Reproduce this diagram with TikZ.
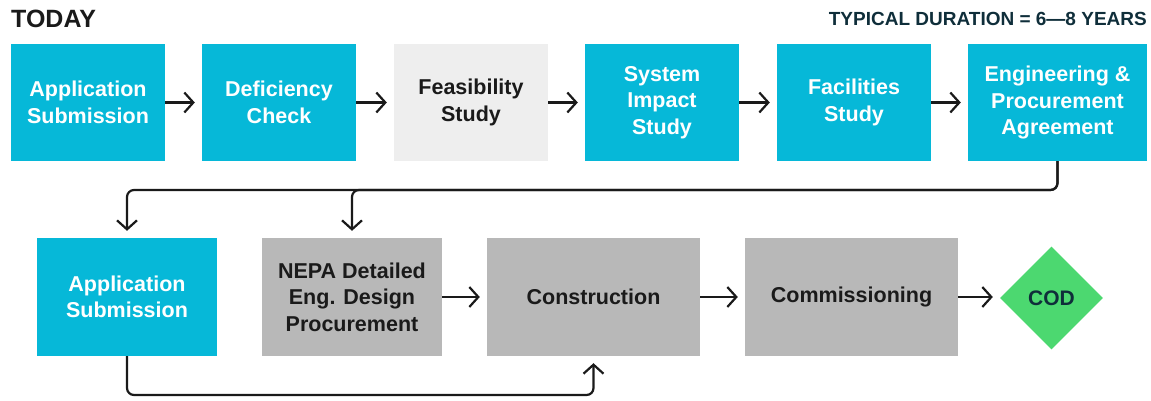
\documentclass[tikz,border=0pt]{standalone}
\usepackage{fontspec}
\setmainfont{Liberation Sans}
\usetikzlibrary{arrows.meta,shapes.geometric}
\definecolor{stepcyan}{HTML}{06B8D8}
\definecolor{stepgray}{HTML}{B8B8B8}
\definecolor{steplight}{HTML}{EEEEEE}
\definecolor{stepgreen}{HTML}{4CD870}
\definecolor{ink}{HTML}{1A1A1A}
\definecolor{navy}{HTML}{0F2E3A}
\tikzset{
  box/.style={rectangle, inner sep=0pt, align=center, font=\fontsize{21.5}{26.5}\selectfont\bfseries},
  cyanbox/.style={box, fill=stepcyan, text=white, minimum height=117pt},
  graybox/.style={box, fill=stepgray, text=ink, minimum height=118pt},
  lightbox/.style={box, fill=steplight, text=ink, minimum height=117pt},
  flow/.style={draw=ink, line width=2.2pt, -{Straight Barb[length=9pt,width=20pt,line width=2.2pt]}, shorten >=7pt},
  path/.style={draw=ink, line width=2.2pt, rounded corners=7pt},
}
\begin{document}
\begin{tikzpicture}[x=1pt,y=-1pt]
\useasboundingbox (0,0) rectangle (1151,400);
% headings
\node[anchor=west, font=\fontsize{25}{28}\selectfont\bfseries, text=ink, inner sep=0pt] (title) at (11,19) {TODAY};
\node[anchor=east, font=\fontsize{19}{22}\selectfont\bfseries, text=navy, inner sep=0pt] (dur) at (1147,19) {TYPICAL DURATION = 6—8 YEARS};
% first row
\node[cyanbox, minimum width=154pt] (app) at (88,102.5) {Application\\Submission};
\node[cyanbox, minimum width=154pt] (def) at (279,102.5) {Deficiency\\Check};
\node[lightbox, minimum width=154pt] (feas) at (471,102.5) {Feasibility\\Study};
\node[cyanbox, minimum width=154pt] (sis) at (662,102.5) {System\\Impact\\Study};
\node[cyanbox, minimum width=154pt] (fac) at (854,102.5) {Facilities\\Study};
\node[cyanbox, minimum width=179pt] (eng) at (1057.5,102.5) {Engineering \&\\Procurement\\Agreement};
% second row
\node[cyanbox, minimum width=180pt, minimum height=118pt] (app2) at (127,297) {Application\\Submission};
\node[graybox, minimum width=180pt] (nepa) at (352,297) {NEPA Detailed\\Eng. Design\\Procurement};
\node[graybox, minimum width=213pt] (con) at (593.5,297) {Construction};
\node[graybox, minimum width=213pt] (com) at (851.5,297) {Commissioning};
\node[diamond, fill=stepgreen, text=navy, inner sep=0pt, minimum width=103pt, minimum height=103pt, font=\fontsize{21}{24}\selectfont\bfseries] (cod) at (1051.5,298) {COD};
% connectors, first row
\draw[flow] (app) -- (def);
\draw[flow] (def) -- (feas);
\draw[flow] (feas) -- (sis);
\draw[flow] (sis) -- (fac);
\draw[flow] (fac) -- (eng);
% connectors, second row
\draw[flow] (nepa) -- (con);
\draw[flow] (con) -- (com);
\draw[flow] (com.east) -- (com.east -| cod.west);
% return bus from the last step
\coordinate (bus) at (0,190);
\coordinate (low) at (0,395);
\draw[path, flow] (eng.south) -- (eng.south |- bus) -| (app2.north);
\draw[path, flow] (eng.south) -- (eng.south |- bus) -| (nepa.north);
\draw[path, flow] (app2.south) -- (app2.south |- low) -| (con.south);
\end{tikzpicture}
\end{document}
